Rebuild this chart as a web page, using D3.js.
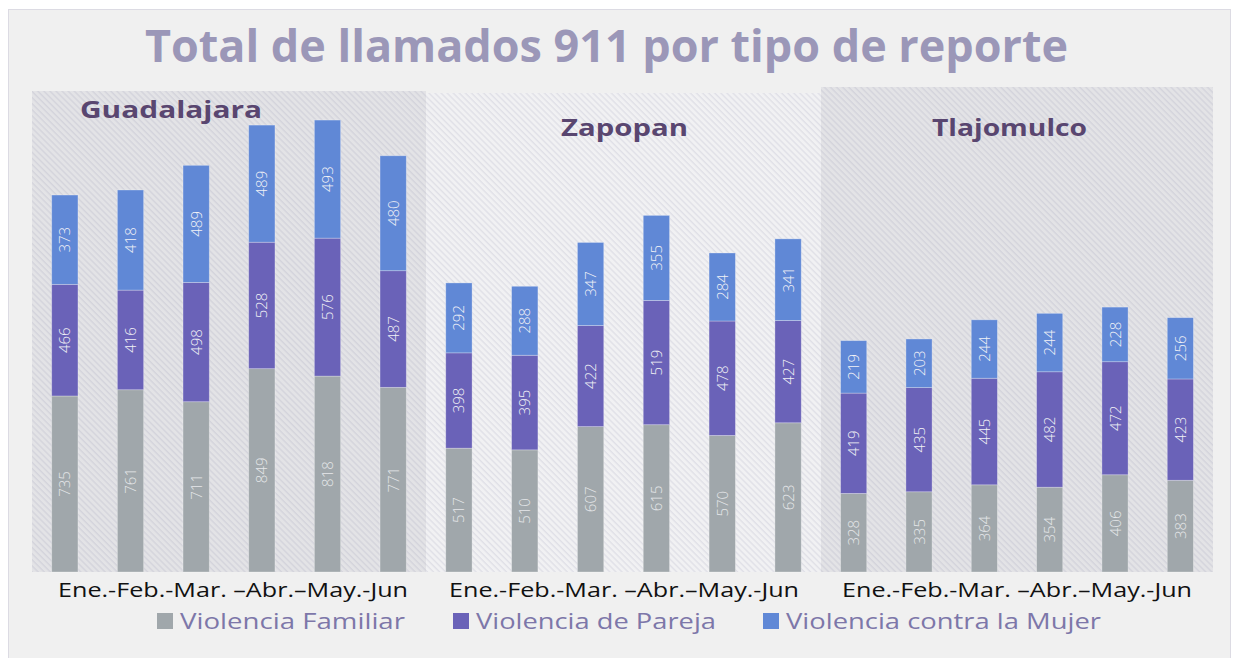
<!DOCTYPE html>
<html>
<head>
<meta charset="utf-8">
<script src="https://cdn.jsdelivr.net/npm/d3@7"></script>
<style>
  body { margin: 0; background: #fff; }
  svg { display: block; }
</style>
</head>
<body>
<div id="chart"></div>
<script>
// data
const municipios = ["Guadalajara", "Zapopan", "Tlajomulco"];
const meses = ["Ene.", "Feb.", "Mar.", "Abr.", "May.", "Jun"];
const periodo = "Ene.-Feb.-Mar. \u2013Abr.\u2013May.-Jun";
const tipos = ["Violencia Familiar", "Violencia de Pareja", "Violencia contra la Mujer"];

const violenciaFamiliar = [
    [735, 761, 711, 849, 818, 771],
    [517, 510, 607, 615, 570, 623],
    [328, 335, 364, 354, 406, 383]
];
const violenciaPareja = [
    [466, 416, 498, 528, 576, 487],
    [398, 395, 422, 519, 478, 427],
    [419, 435, 445, 482, 472, 423]
];
const violenciaMujer = [
    [373, 418, 489, 489, 493, 480],
    [292, 288, 347, 355, 284, 341],
    [219, 203, 244, 244, 228, 256]
];

const colores = ["#a0a7ab", "#6a62b8", "#6088d6"];

const width = 1238, height = 658;
const font = "'Open Sans', sans-serif";

let svg = d3.select("#chart").append("svg")
    .attr("width", width).attr("height", height);

let defs = svg.append("defs");
// hatch patterns for the panels
function hatch(id, bg, line) {
    let p = defs.append("pattern").attr("id", id)
        .attr("patternUnits", "userSpaceOnUse")
        .attr("width", 4.3).attr("height", 4.3)
        .attr("patternTransform", "rotate(-45)");
    p.append("rect").attr("width", 4.3).attr("height", 4.3).attr("fill", bg);
    p.append("line").attr("x1", 1).attr("x2", 1).attr("y1", 0).attr("y2", 4.3)
        .attr("stroke", line).attr("stroke-width", 1.4);
}
hatch("hatchDark", "#e3e3e6", "#d4d4dc");
hatch("hatchLight", "#f1f1f3", "#e0e0e7");

// outer frame
svg.append("rect").attr("x", 8.5).attr("y", 9.5).attr("width", 1222).attr("height", 660)
    .attr("fill", "#f0f0f0").attr("stroke", "#dcdbe3");

svg.append("text")
    .attr("x", 145).attr("y", 62)
    .attr("textLength", 923).attr("lengthAdjust", "spacingAndGlyphs")
    .attr("font-family", font).attr("font-weight", 700)
    .attr("font-size", 44)
    .attr("fill", "#9b97b8")
    .text("Total de llamados 911 por tipo de reporte");

const y = d3.scaleLinear().domain([0, 2000]).range([572, 93]);

// panel extents
const panelX = [[32, 426], [426, 821], [821, 1213]];
const panelTop = [91, 93, 87];
const panelFill = ["url(#hatchDark)", "url(#hatchLight)", "url(#hatchDark)"];
const tituloPos = [[80, 118, 182], [561, 136, 127], [932, 136, 155]];
const periodoX = [58, 449, 842];

municipios.forEach(function(m, i) {
    let g = svg.append("g");
    g.append("rect")
        .attr("x", panelX[i][0]).attr("y", panelTop[i])
        .attr("width", panelX[i][1] - panelX[i][0])
        .attr("height", y(0) - panelTop[i])
        .attr("fill", panelFill[i]);

    let x = d3.scaleBand().domain(meses).range(panelX[i])
        .paddingInner(0.6).paddingOuter(0.3);

    let rows = meses.map(function(mes, j) {
        return { mes: mes, vals: [violenciaFamiliar[i][j], violenciaPareja[i][j], violenciaMujer[i][j]] };
    });
    let stack = d3.stack().keys([0, 1, 2]).value((d, k) => d.vals[k]);
    let series = stack(rows);

    series.forEach(function(s, k) {
        let grp = g.append("g");
        grp.selectAll("rect").data(s).join("rect")
            .attr("x", d => x(d.data.mes))
            .attr("y", d => y(d[1]))
            .attr("width", x.bandwidth())
            .attr("height", d => y(d[0]) - y(d[1]))
            .attr("fill", colores[k])
            .attr("stroke", "rgba(255,255,255,0.35)")
            .attr("stroke-width", 0.8);
        grp.selectAll("text").data(s).join("text")
            .attr("transform", d => "translate(" + (x(d.data.mes) + x.bandwidth() / 2 + 5.5) + "," + ((y(d[0]) + y(d[1])) / 2) + ") rotate(-90)")
            .attr("text-anchor", "middle")
            .attr("font-family", font).attr("font-weight", 300)
            .attr("font-size", 15)
            .attr("fill", k == 0 ? "#e6e8ea" : "#f2f2f6")
            .text(d => d.data.vals[k]);
    });

    g.append("text")
        .attr("x", tituloPos[i][0]).attr("y", tituloPos[i][1])
        .attr("textLength", tituloPos[i][2]).attr("lengthAdjust", "spacingAndGlyphs")
        .attr("font-family", font).attr("font-weight", 700)
        .attr("font-size", 23)
        .attr("fill", "#594670")
        .text(m);

    g.append("text")
        .attr("x", periodoX[i]).attr("y", 597)
        .attr("textLength", 350).attr("lengthAdjust", "spacingAndGlyphs")
        .attr("font-family", font).attr("font-size", 19.5)
        .attr("fill", "#111")
        .text(periodo);
});

// legend
const legX = [157, 453, 763];
const legW = [225, 240, 315];
let leg = svg.append("g").selectAll("g").data(tipos).join("g")
    .attr("transform", (d, i) => "translate(" + legX[i] + ",613)");
leg.append("rect").attr("width", 16).attr("height", 16)
    .attr("fill", (d, i) => colores[i]);
leg.append("text").attr("x", 23).attr("y", 16)
    .attr("textLength", (d, i) => legW[i]).attr("lengthAdjust", "spacingAndGlyphs")
    .attr("font-family", font).attr("font-size", 21)
    .attr("fill", "#7d77a9")
    .text(d => d);
</script>
</body>
</html>
